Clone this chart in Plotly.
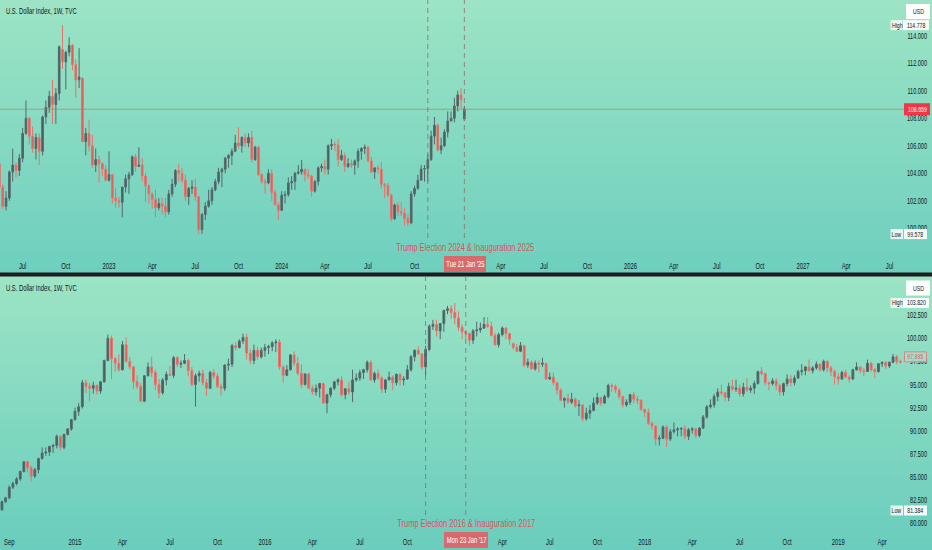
"""
U.S. Dollar Index (DXY), weekly candles: Trump 2024/25 vs Trump 2016/17.
Two stacked TradingView-style panels drawn with plotly.
"""

import pandas as pd
import plotly.graph_objects as go

# ---------------------------------------------------------------------------
# Top panel: weekly candles from 2022-05-16 to 2025-01-20
top_open = [
    104.7, 103.0, 101.6, 102.2, 104.1, 104.6, 104.2, 105.1, 106.9, 108.0, 106.7, 105.8, 106.6, 105.6, 108.1, 108.8, 109.6,
    109.0, 109.8, 113.0, 112.1, 112.8, 113.3, 111.9, 110.8, 110.9, 106.3, 106.9, 106.0, 104.6, 105.0, 104.7, 104.3,
    # 2023
    103.5, 103.9, 102.2, 102.0, 101.9, 103.0, 103.6, 103.9, 105.2, 104.5, 104.6, 103.8, 103.1, 102.5, 102.1, 101.5,
    101.8, 101.6, 101.2, 102.5, 103.2, 104.2, 104.0, 103.5, 102.3, 102.9, 103.0, 102.3, 99.9, 101.0, 101.6, 102.0,
    102.8, 103.4, 104.1, 104.3, 105.1, 105.3, 105.6, 106.2, 106.0, 106.6, 106.2, 106.6, 105.0, 105.9, 103.9, 103.4,
    103.3, 104.0, 102.6, 101.7,
    # 2024
    101.3, 102.4, 102.45, 103.3, 103.4, 104.0, 104.1, 104.3, 103.9, 103.8, 102.7, 103.4, 104.4, 104.5, 104.3, 106.0,
    106.1, 106.05, 105.0, 105.3, 104.5, 104.7, 104.6, 104.9, 105.6, 105.8, 105.9, 104.9, 104.1, 104.4, 104.3, 103.2,
    103.1, 102.4, 100.7, 101.7, 101.2, 101.1, 100.7, 100.4, 102.5, 102.9, 103.5, 104.3, 104.35, 105.0, 106.7, 107.5,
    105.7, 106.0, 107.0, 107.8, 108.0,
    # 2025
    108.9, 109.7, 107.95,
]
top_high = [
    105.0, 103.2, 102.7, 104.2, 105.8, 104.8, 105.4, 107.3, 109.3, 108.1, 107.4, 106.9, 106.9, 108.2, 109.3, 110.0, 110.8,
    110.2, 113.3, 114.778, 112.9, 113.9, 113.4, 112.3, 113.1, 111.0, 107.3, 107.9, 106.8, 105.8, 105.3, 104.8, 104.6,
    105.6, 103.9, 102.9, 102.3, 103.0, 103.9, 104.1, 105.3, 105.4, 105.9, 105.1, 104.0, 103.2, 102.6, 102.8, 102.2,
    102.2, 102.2, 102.8, 103.6, 104.3, 104.7, 104.4, 103.9, 103.0, 103.5, 103.6, 102.3, 101.1, 101.9, 102.8, 103.0,
    103.6, 104.4, 104.4, 105.2, 105.4, 105.8, 106.8, 107.35, 106.7, 106.9, 106.9, 107.1, 106.0, 106.0, 104.0, 103.6,
    104.3, 104.3, 102.8, 101.9,
    102.7, 102.7, 103.7, 103.8, 104.1, 104.6, 104.97, 104.3, 104.3, 103.9, 103.5, 104.5, 104.7, 105.0, 106.1, 106.5,
    106.3, 106.5, 105.7, 105.5, 105.1, 105.0, 105.0, 105.8, 105.9, 106.1, 106.0, 105.2, 104.4, 104.6, 104.8, 103.3,
    103.3, 102.5, 101.8, 101.9, 101.9, 101.5, 101.0, 102.7, 103.1, 103.9, 104.6, 104.6, 105.4, 107.1, 108.1, 107.6,
    106.6, 107.2, 108.5, 108.5, 109.5,
    110.0, 110.2, 108.9,
]
top_low = [
    102.6, 101.4, 101.3, 102.0, 103.4, 103.7, 103.8, 104.8, 106.8, 106.1, 105.5, 105.0, 104.6, 105.3, 107.6, 108.4, 107.6,
    107.6, 109.3, 111.6, 110.1, 112.5, 111.5, 109.5, 110.2, 106.3, 105.3, 105.6, 104.4, 104.1, 103.3, 103.8, 103.4,
    103.4, 101.8, 101.5, 101.5, 100.8, 102.6, 102.5, 103.8, 104.1, 104.5, 103.4, 101.9, 101.8, 101.4, 100.8, 101.3,
    101.0, 100.8, 101.0, 102.3, 103.0, 103.4, 103.3, 102.0, 101.7, 102.5, 102.0, 99.578, 99.6, 100.6, 101.5, 101.7,
    102.7, 103.2, 103.0, 104.0, 104.4, 104.6, 105.6, 105.8, 105.5, 105.9, 105.9, 104.8, 104.9, 103.8, 103.2, 102.5,
    103.2, 102.0, 101.7, 100.6,
    101.3, 101.8, 102.3, 102.8, 102.8, 103.9, 103.9, 103.4, 103.6, 102.3, 102.6, 103.1, 104.1, 103.9, 103.9, 105.7,
    105.6, 104.5, 104.9, 104.1, 104.4, 104.4, 103.9, 104.4, 105.0, 105.4, 104.8, 104.0, 103.6, 104.0, 102.9, 102.2,
    102.3, 100.5, 100.6, 100.9, 100.9, 100.2, 100.16, 100.3, 102.3, 102.8, 103.5, 103.4, 103.4, 104.9, 106.1, 105.6,
    105.4, 105.9, 106.6, 107.8, 107.7,
    108.5, 108.7, 107.8,
]
top_close = [
    103.0, 101.6, 102.2, 104.1, 104.6, 104.2, 105.1, 106.9, 108.0, 106.7, 105.8, 106.6, 105.6, 108.1, 108.8, 109.6, 109.0,
    109.8, 113.2, 112.1, 112.8, 113.3, 111.9, 110.8, 111.0, 106.3, 106.9, 106.0, 104.6, 105.0, 104.7, 104.3, 103.5,
    103.9, 102.2, 102.0, 101.9, 103.0, 103.6, 103.9, 105.2, 104.5, 104.6, 103.8, 103.1, 102.5, 102.1, 101.5, 101.8,
    101.6, 101.2, 102.5, 103.2, 104.2, 104.0, 103.5, 102.3, 102.9, 103.0, 102.3, 99.9, 101.0, 101.6, 102.0, 102.8,
    103.4, 104.1, 104.3, 105.1, 105.3, 105.6, 106.2, 106.0, 106.6, 106.2, 106.6, 105.0, 105.9, 103.9, 103.4, 103.3,
    104.0, 102.6, 101.7, 101.3,
    102.4, 102.45, 103.3, 103.4, 104.0, 104.1, 104.3, 103.9, 103.8, 102.7, 103.4, 104.4, 104.5, 104.3, 106.0, 106.1,
    106.05, 105.0, 105.3, 104.5, 104.7, 104.6, 104.9, 105.6, 105.8, 105.9, 104.9, 104.1, 104.4, 104.3, 103.2, 103.1,
    102.4, 100.7, 101.7, 101.2, 101.1, 100.7, 100.4, 102.5, 102.9, 103.5, 104.3, 104.35, 105.0, 106.7, 107.5, 105.7,
    106.0, 107.0, 107.8, 108.0, 108.9,
    109.7, 109.35, 108.659,
]

# Bottom panel: weekly candles from 2014-08-18 to 2019-05-06
bot_open = [
    81.45, 82.35, 82.75, 83.9, 84.3, 84.8, 85.6, 86.65, 86.0, 85.1, 85.8, 87.0, 87.6, 87.7, 88.3, 88.4, 89.4, 88.2, 89.6, 90.2,
    # 2015
    91.2, 92.1, 92.6, 95.2, 94.8, 94.6, 94.9, 94.3, 95.3, 97.6, 100.0, 97.8, 97.3, 96.6, 99.3, 97.5, 96.9, 95.3, 94.8, 93.2,
    95.95, 96.9, 96.3, 95.0, 94.1, 95.5, 96.1, 96.0, 97.9, 97.2, 97.3, 97.6, 96.5, 95.0, 95.95, 96.2, 95.2, 94.6, 96.3, 95.9,
    94.8, 94.6, 97.1, 97.2, 99.2, 99.0, 99.7, 100.1, 98.4, 97.6, 98.7, 98.0,
    # 2016
    98.7, 99.0, 99.1, 99.5, 99.6, 96.9, 96.0, 96.6, 98.2, 97.3, 96.2, 95.0, 96.15, 94.6, 94.2, 94.6, 95.1, 93.0, 93.9, 94.6,
    95.3, 95.5, 93.9, 94.55, 94.2, 95.5, 95.7, 96.3, 96.6, 97.4, 95.5, 96.2, 95.7, 94.5, 95.5, 95.8, 95.2, 96.1, 95.5, 95.6,
    96.6, 98.0, 98.7, 98.3, 96.9, 98.8, 101.3, 101.5, 100.8, 101.6, 103.0, 103.2,
    # 2017
    102.8, 102.2, 101.2, 100.7, 100.5, 99.8, 100.8, 100.9, 101.1, 101.5, 101.3, 100.3, 99.3, 100.4, 101.1, 100.5, 99.4, 99.0,
    98.6, 99.2, 97.1, 97.4, 96.7, 97.3, 97.2, 97.3, 95.6, 95.8, 95.2, 94.4, 93.3, 93.5, 93.1, 93.4, 92.7, 92.8, 91.3, 91.9,
    92.2, 93.0, 93.6, 93.0, 93.7, 94.9, 94.8, 94.4, 93.7, 92.8, 93.1, 93.9, 93.4, 93.3,
    # 2018
    92.3, 92.0, 90.8, 90.5, 89.1, 89.2, 90.4, 89.1, 89.9, 90.1, 90.2, 90.25, 89.4, 90.1, 90.2, 89.5, 90.3, 91.5, 92.6, 92.8,
    93.7, 94.2, 94.1, 93.6, 94.8, 94.5, 94.6, 94.0, 94.7, 94.4, 94.6, 95.1, 96.4, 96.2, 95.2, 95.1, 95.4, 94.9, 94.2, 95.1,
    95.6, 95.2, 95.7, 96.4, 96.5, 96.9, 96.5, 96.8, 97.2, 96.6, 97.5, 96.8, 96.4,
    # 2019
    95.85, 95.6, 96.3, 95.8, 95.6, 96.6, 96.9, 96.5, 96.4, 97.3, 96.6, 96.4, 97.25, 97.4, 97.0, 97.4, 98.0, 97.5,
]
bot_high = [
    82.45, 82.85, 84.1, 84.5, 85.0, 85.7, 86.75, 86.8, 86.2, 86.0, 87.1, 88.2, 88.2, 88.4, 88.6, 89.6, 89.5, 89.7, 90.3, 91.3,
    92.5, 93.0, 95.5, 95.5, 95.2, 95.3, 95.0, 95.4, 97.7, 100.4, 100.3, 98.0, 98.3, 99.7, 100.1, 98.0, 97.0, 96.0, 95.2, 96.0,
    97.4, 98.0, 96.6, 95.6, 95.7, 96.4, 97.0, 98.1, 98.1, 97.6, 98.3, 97.8, 96.9, 96.2, 96.5, 96.6, 95.6, 96.5, 96.7, 96.2,
    95.1, 97.2, 97.8, 99.4, 99.6, 99.9, 100.5, 100.5, 98.8, 99.3, 99.1, 99.0,
    99.4, 99.3, 99.7, 99.9, 99.9, 97.1, 97.1, 98.3, 98.6, 98.0, 97.2, 96.2, 96.3, 94.9, 95.0, 95.2, 95.2, 94.0, 94.7, 95.4,
    95.7, 95.9, 94.6, 95.3, 96.6, 96.2, 96.6, 96.7, 97.6, 97.6, 96.4, 96.6, 95.9, 95.6, 96.4, 96.0, 96.2, 96.2, 95.9, 97.1,
    98.2, 98.8, 99.1, 98.4, 99.2, 101.5, 102.0, 102.0, 101.2, 103.1, 103.5, 103.6,
    103.82, 102.9, 101.5, 100.8, 100.6, 101.0, 101.8, 101.7, 102.3, 102.3, 101.8, 100.6, 100.6, 101.3, 101.2, 100.6, 99.6, 99.4,
    99.6, 99.3, 97.8, 97.6, 97.6, 97.6, 97.9, 97.3, 96.3, 96.3, 95.3, 94.6, 93.6, 94.0, 94.1, 93.6, 93.3, 92.9, 92.5, 92.8,
    93.6, 94.1, 93.6, 93.9, 95.1, 95.1, 95.0, 94.6, 93.8, 93.4, 94.0, 94.2, 93.8, 93.4,
    92.4, 92.4, 91.0, 90.6, 89.5, 90.6, 90.6, 90.2, 90.9, 90.4, 90.4, 90.6, 90.3, 90.4, 90.3, 90.4, 91.7, 92.8, 93.4, 94.0,
    94.6, 95.0, 94.2, 95.2, 95.5, 95.5, 95.0, 95.2, 95.7, 94.9, 95.4, 96.5, 96.9, 96.2, 95.3, 95.7, 95.7, 95.1, 95.2, 96.1,
    96.0, 96.0, 96.6, 97.2, 97.0, 97.7, 97.0, 97.5, 97.3, 97.7, 97.6, 97.0, 96.6,
    96.2, 96.5, 96.6, 96.0, 96.7, 97.4, 96.9, 96.8, 97.7, 97.4, 96.8, 97.3, 97.5, 97.5, 97.5, 98.3, 98.2, 97.7,
]
bot_low = [
    81.384, 82.2, 82.6, 83.7, 84.1, 84.6, 85.5, 85.5, 84.5, 84.9, 85.4, 86.9, 87.3, 87.3, 87.6, 88.1, 87.9, 88.0, 89.5, 90.0,
    91.1, 91.6, 92.4, 94.1, 93.2, 94.0, 93.9, 94.0, 95.2, 97.5, 95.6, 96.4, 96.4, 96.5, 97.4, 96.6, 94.5, 94.5, 93.1, 93.1,
    95.9, 95.8, 94.4, 93.5, 93.9, 94.9, 95.9, 95.7, 96.9, 96.8, 97.2, 95.9, 94.8, 92.6, 95.3, 94.9, 93.8, 94.5, 95.6, 94.6,
    93.8, 94.3, 96.5, 96.9, 98.7, 98.9, 99.4, 97.7, 97.2, 97.2, 97.7, 97.8,
    98.0, 98.3, 98.6, 98.5, 96.6, 95.2, 95.9, 96.5, 97.0, 96.0, 94.6, 94.9, 94.5, 93.9, 93.8, 93.6, 92.9, 91.9, 93.6, 94.4,
    94.9, 93.7, 93.4, 93.9, 93.1, 95.3, 95.4, 95.6, 96.3, 95.4, 95.2, 95.5, 94.1, 94.1, 95.5, 94.4, 94.9, 94.9, 94.9, 95.5,
    96.4, 97.5, 98.2, 96.6, 96.0, 98.6, 100.9, 100.2, 99.9, 100.7, 102.6, 102.1,
    101.5, 100.8, 99.9, 99.8, 99.2, 99.4, 100.2, 100.6, 101.0, 101.1, 100.2, 99.2, 99.0, 100.2, 99.9, 99.3, 98.8, 98.5,
    98.5, 96.9, 96.8, 96.6, 96.5, 96.3, 96.9, 95.5, 95.5, 94.9, 93.9, 93.2, 92.5, 92.9, 92.9, 92.5, 91.6, 91.0, 91.1, 91.3,
    92.1, 92.8, 92.7, 92.9, 93.5, 94.2, 94.1, 93.4, 92.5, 92.6, 92.8, 93.0, 92.9, 92.2,
    91.5, 90.6, 90.1, 88.4, 88.4, 89.1, 88.25, 88.9, 89.7, 89.4, 89.4, 89.1, 89.0, 89.7, 89.2, 89.3, 90.2, 91.3, 92.4, 92.5,
    93.2, 93.8, 93.2, 93.2, 94.3, 94.2, 93.7, 93.7, 94.2, 94.1, 94.0, 95.0, 96.0, 94.9, 94.4, 94.9, 94.4, 93.8, 93.8, 94.8,
    94.8, 94.9, 95.6, 96.0, 96.0, 96.4, 96.2, 96.6, 96.4, 96.4, 96.3, 95.9, 95.0,
    95.0, 95.5, 95.7, 95.2, 95.5, 96.5, 96.2, 95.9, 96.4, 96.4, 95.7, 96.3, 96.9, 96.7, 96.8, 97.3, 97.2, 97.3,
]
bot_close = [
    82.35, 82.75, 83.9, 84.3, 84.8, 85.6, 86.65, 86.0, 85.1, 85.8, 87.0, 87.6, 87.7, 88.3, 88.4, 89.4, 88.2, 89.6, 90.2, 91.2,
    92.1, 92.6, 95.2, 94.8, 94.6, 94.9, 94.3, 95.3, 97.6, 100.0, 97.8, 97.3, 96.6, 99.3, 97.5, 96.9, 95.3, 94.8, 93.2, 95.95,
    96.9, 96.3, 95.0, 94.1, 95.5, 96.1, 96.0, 97.9, 97.2, 97.3, 97.6, 96.5, 95.0, 95.95, 96.2, 95.2, 94.6, 96.3, 95.9, 94.8,
    94.6, 97.1, 97.2, 99.2, 99.0, 99.7, 100.1, 98.4, 97.6, 98.7, 98.0, 98.7,
    99.0, 99.1, 99.5, 99.6, 96.9, 96.0, 96.6, 98.2, 97.3, 96.2, 95.0, 96.15, 94.6, 94.2, 94.6, 95.1, 93.0, 93.9, 94.6, 95.3,
    95.5, 93.9, 94.55, 94.2, 95.5, 95.7, 96.3, 96.6, 97.4, 95.5, 96.2, 95.7, 94.5, 95.5, 95.8, 95.2, 96.1, 95.5, 95.6, 96.6,
    98.0, 98.7, 98.3, 96.9, 98.8, 101.3, 101.5, 100.8, 101.6, 103.0, 103.2, 102.8,
    102.2, 101.2, 100.7, 100.5, 99.8, 100.8, 100.9, 101.1, 101.5, 101.3, 100.3, 99.3, 100.4, 101.1, 100.5, 99.9, 99.0, 98.6,
    99.2, 97.1, 97.4, 96.7, 97.3, 97.2, 97.3, 95.6, 95.8, 95.2, 94.4, 93.3, 93.5, 93.1, 93.4, 92.7, 92.8, 91.3, 91.9, 92.2,
    93.0, 93.6, 93.0, 93.7, 94.9, 94.8, 94.4, 93.7, 92.8, 93.1, 93.9, 93.4, 93.3, 92.3,
    92.0, 90.8, 90.5, 89.1, 89.2, 90.4, 89.1, 89.9, 90.1, 90.2, 90.25, 89.4, 90.1, 90.2, 89.5, 90.3, 91.5, 92.6, 92.8, 93.7,
    94.2, 94.1, 93.6, 94.8, 94.5, 94.6, 94.0, 94.7, 94.4, 94.6, 95.1, 96.4, 96.2, 95.2, 95.1, 95.4, 94.9, 94.2, 95.1, 95.6,
    95.2, 95.7, 96.4, 96.5, 96.9, 96.5, 96.8, 97.2, 96.6, 97.5, 96.8, 96.4, 95.85,
    95.6, 96.3, 95.8, 95.6, 96.6, 96.9, 96.5, 96.4, 97.3, 96.6, 96.4, 97.25, 97.4, 97.0, 97.4, 98.0, 97.5, 97.4,
]

# Time-axis labels (first weekly bar of the month)
top_tick_dates = [
    "2022-07-04", "2022-10-03", "2023-01-02", "2023-04-03", "2023-07-03", "2023-10-02", "2024-01-01",
    "2024-04-01", "2024-07-01", "2024-10-07", "2025-04-07", "2025-07-07", "2025-10-06", "2026-01-05",
    "2026-04-06", "2026-07-06", "2026-10-05", "2027-01-04", "2027-04-05", "2027-07-05",
]
top_tick_text = ["Jul", "Oct", "2023", "Apr", "Jul", "Oct", "2024", "Apr", "Jul", "Oct",
                 "Apr", "Jul", "Oct", "2026", "Apr", "Jul", "Oct", "2027", "Apr", "Jul"]
bot_tick_dates = [
    "2014-09-01", "2015-01-05", "2015-04-06", "2015-07-06", "2015-10-05", "2016-01-04", "2016-04-04",
    "2016-07-04", "2016-10-03", "2017-04-03", "2017-07-03", "2017-10-02", "2018-01-01", "2018-04-02",
    "2018-07-02", "2018-10-01", "2019-01-07", "2019-04-01",
]
bot_tick_text = ["Sep", "2015", "Apr", "Jul", "Oct", "2016", "Apr", "Jul", "Oct",
                 "Apr", "Jul", "Oct", "2018", "Apr", "Jul", "Oct", "2019", "Apr"]

top_price_ticks = [100, 102, 104, 106, 108, 110, 112, 114]
bot_price_ticks = [80, 82.5, 85, 87.5, 90, 92.5, 95, 97.5, 100, 102.5]

top_events = ["2024-11-04", "2025-01-20"]
bot_events = ["2016-11-07", "2017-01-23"]
top_hi, top_lo, top_last = 114.778, 99.578, 108.659
bot_hi, bot_lo, bot_last = 103.820, 81.384, 97.995

top_dates = pd.date_range("2022-05-16", periods=len(top_close), freq="7D")
bot_dates = pd.date_range("2014-08-18", periods=len(bot_close), freq="7D")

# ---------------------------------------------------------------------------
W, H = 932, 550
UP_FILL, UP_LINE = "#495b5d", "#56686a"
DN_FILL, DN_LINE = "#ef4f4c", "#e8716c"
TXT = "#131722"
EVENT = "#e0505a"
FONT = "Liberation Sans, Arial, sans-serif"
SQUEEZE = 0.65  # the reference screenshot is squashed horizontally, text too


def px_x(px):
    return px / W


def px_y(py):
    return 1 - py / H


def x_range(anchor, anchor_px, px_week):
    # date range so that `anchor` lands at pixel `anchor_px`
    a = pd.Timestamp(anchor)
    return [a - pd.Timedelta(weeks=anchor_px / px_week), a + pd.Timedelta(weeks=(W - anchor_px) / px_week)]


def candles(dates, o, h, l, c, xa, ya):
    return go.Candlestick(
        x=dates, open=o, high=h, low=l, close=c, xaxis=xa, yaxis=ya,
        increasing=dict(line=dict(color=UP_LINE, width=1), fillcolor=UP_FILL),
        decreasing=dict(line=dict(color=DN_LINE, width=1), fillcolor=DN_FILL),
        whiskerwidth=0, showlegend=False, hoverinfo="skip",
    )


fig = go.Figure()
fig.add_trace(candles(top_dates, top_open, top_high, top_low, top_close, "x", "y"))
fig.add_trace(candles(bot_dates, bot_open, bot_high, bot_low, bot_close, "x2", "y2"))

shapes = []
ann = []


def gradient(y_top, y_bot, c_top, c_bot, n=40):
    step = (y_bot - y_top) / n
    for i in range(n):
        t = i / (n - 1)
        col = "rgb(%d,%d,%d)" % tuple(round(a + (b - a) * t) for a, b in zip(c_top, c_bot))
        shapes.append(dict(type="rect", xref="paper", yref="paper", x0=0, x1=1,
                           y0=px_y(y_top + (i + 1) * step + 0.5), y1=px_y(y_top + i * step),
                           fillcolor=col, line=dict(width=0), layer="below"))


def tag(text, x0, x1, y, h, fill, color=TXT, size=8, yref="paper", border=None):
    """Text in a filled box; y is a pixel row (paper) or a price (axis)."""
    box = dict(type="rect", xref="paper", x0=px_x(x0), x1=px_x(x1), fillcolor=fill,
               line=dict(width=1 if border else 0, color=border or fill))
    if yref == "paper":
        box.update(yref="paper", y0=px_y(y + h / 2), y1=px_y(y - h / 2))
        ty = px_y(y)
    else:
        box.update(yref=yref, ysizemode="pixel", yanchor=y, y0=-h / 2, y1=h / 2)
        ty = y
    shapes.append(box)
    ann.append(dict(text=text, x=px_x((x0 + x1) / 2), xref="paper", y=ty, yref=yref,
                    showarrow=False, xanchor="center", yanchor="middle", borderpad=0,
                    font=dict(family=FONT, size=size, color=color)))


def note(text, x, y, color=TXT, size=9, xanchor="center"):
    ann.append(dict(text=text, x=px_x(x), xref="paper", y=px_y(y), yref="paper",
                    showarrow=False, xanchor=xanchor, yanchor="middle", align=xanchor if xanchor != "center" else "center",
                    font=dict(family=FONT, size=size, color=color)))


gradient(0, 273, (156, 228, 197), (110, 207, 190))
gradient(276, 550, (156, 228, 197), (106, 205, 189))

# panel separator
shapes.append(dict(type="rect", xref="paper", yref="paper", x0=0, x1=1,
                   y0=px_y(276.5), y1=px_y(272.5), fillcolor="#1c1c1c", line=dict(width=0)))

# last price line (top)
shapes.append(dict(type="line", xref="paper", yref="y", x0=0, x1=px_x(904), y0=top_last, y1=top_last,
                   line=dict(color="rgba(205,95,85,0.55)", width=1)))

# event markers
for d in top_events:
    shapes.append(dict(type="line", xref="x", yref="paper", x0=d, x1=d, y0=px_y(238), y1=1,
                       line=dict(color="rgba(150,105,105,0.8)", width=1, dash="5px,4px")))
for d in bot_events:
    shapes.append(dict(type="line", xref="x2", yref="paper", x0=d, x1=d, y0=px_y(515), y1=px_y(277),
                       line=dict(color="rgba(150,105,105,0.8)", width=1, dash="5px,4px")))

# titles
note("U.S. Dollar Index, 1W, TVC", 4, 11, xanchor="left")
note("U.S. Dollar Index, 1W, TVC", 4, 288, xanchor="left")

# top panel labels
tag("USD", 906, 930, 11.5, 15, "white")
tag("High", 890.5, 902.5, top_hi, 10, "rgba(236,248,243,0.95)", yref="y")
tag(f"{top_hi:.3f}", 903, 929, top_hi, 10, "rgba(255,255,255,0.92)", yref="y")
tag(f"{top_last:.3f}", 904, 930, top_last, 12, "#f23645", color="white", yref="y")
tag("Low", 890.5, 903, top_lo, 10, "rgba(236,248,243,0.95)", yref="y")
tag(f"{top_lo:.3f}", 904, 927, top_lo, 10, "rgba(255,255,255,0.92)", yref="y")
note("Trump Election 2024 &amp; Inauguration 2025", 464.5, 247, color=EVENT, size=11.5)
tag("Tue 21 Jan '25", 444, 486, 264, 16, "#d86a6d", color="white", size=9)

# bottom panel labels
tag("USD", 906, 930, 288, 15, "white")
tag("High", 890.5, 902.5, bot_hi, 10, "rgba(236,248,243,0.95)", yref="y2")
tag(f"{bot_hi:.3f}", 903, 929, bot_hi, 10, "rgba(255,255,255,0.92)", yref="y2")
tag(f"{bot_last:.3f}", 904.5, 926.5, bot_last, 10, "rgba(160,222,204,0.95)", color="#e0575a",
    yref="y2", border="#e08080")
tag("Low", 890.5, 903, bot_lo, 10, "rgba(236,248,243,0.95)", yref="y2")
tag(f"{bot_lo:.3f}", 904, 927, bot_lo, 10, "rgba(255,255,255,0.92)", yref="y2")
note("Trump Election 2016 &amp; Inauguration 2017", 466, 522.5, color=EVENT, size=11.5)
tag("Mon 23 Jan '17", 444, 488, 540, 16, "#d86a6d", color="white", size=9)

xcommon = dict(type="date", showgrid=False, zeroline=False, showline=False, ticks="",
               tickfont=dict(family=FONT, size=9, color=TXT), rangeslider=dict(visible=False),
               ticklabelstandoff=3, fixedrange=True, domain=[0, 1])
ycommon = dict(showgrid=False, zeroline=False, showline=False, ticks="", side="right",
               ticklabelposition="inside", tickformat=".3f", ticklabelstandoff=2,
               tickfont=dict(family=FONT, size=8.5, color=TXT), fixedrange=True)

fig.update_layout(
    width=W, height=H,
    margin=dict(l=0, r=0, t=0, b=0),
    paper_bgcolor="rgb(156,228,197)",
    plot_bgcolor="rgba(0,0,0,0)",
    font=dict(family=FONT, color=TXT),
    showlegend=False,
    shapes=shapes,
    annotations=ann,
    xaxis=dict(xcommon, anchor="y", range=x_range("2023-01-02", 109, 3.321),
               tickvals=top_tick_dates, ticktext=top_tick_text),
    yaxis=dict(ycommon, anchor="x", domain=[px_y(256), 1], range=[97.985, 116.604],
               tickvals=top_price_ticks),
    xaxis2=dict(xcommon, anchor="y2", range=x_range("2015-01-05", 75, 3.652),
                tickvals=bot_tick_dates, ticktext=bot_tick_text),
    yaxis2=dict(ycommon, anchor="x2", domain=[px_y(532), px_y(277)], range=[79.059, 106.627],
                tickvals=bot_price_ticks),
)

# drop the default body margin and squeeze every text horizontally around its anchor
post = """
document.body.style.margin = '0';
document.getElementById('{plot_id}').querySelectorAll('svg text').forEach(function (t) {
    var x = parseFloat(t.getAttribute('x')) || 0;
    var tr = t.getAttribute('transform') || '';
    t.setAttribute('transform', tr + ' translate(' + x + ',0) scale(%s,1) translate(' + (-x) + ',0)');
});
""" % SQUEEZE
fig.write_html("out.html", config={"displayModeBar": False}, post_script=post)
